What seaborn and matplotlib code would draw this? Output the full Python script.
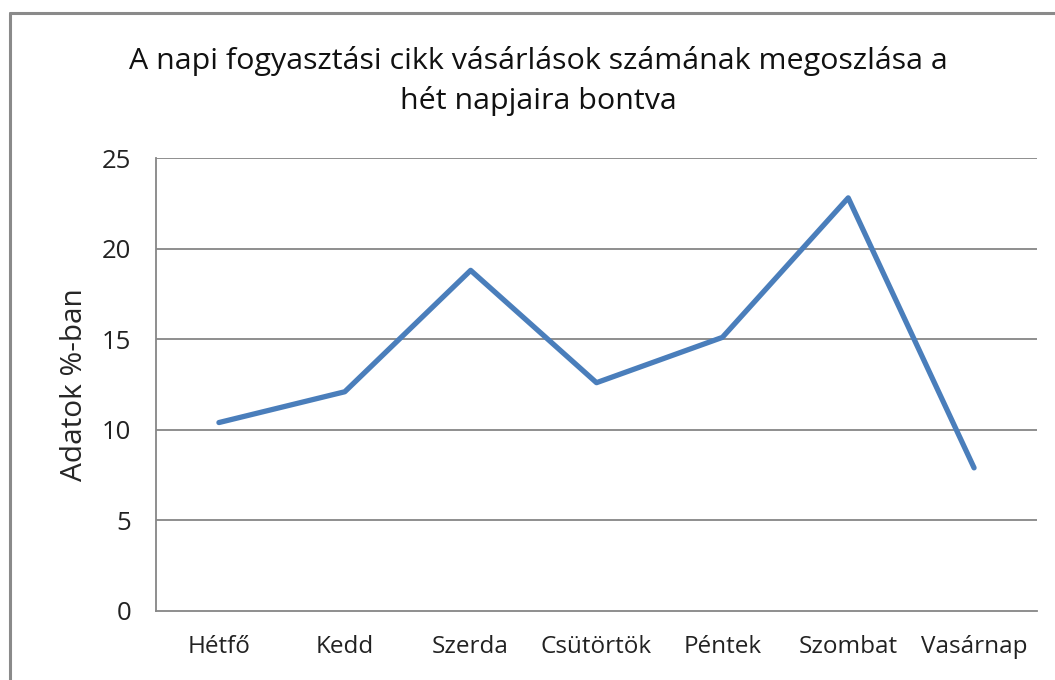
import numpy as np
import pandas as pd
import matplotlib
matplotlib.use("Agg")
import matplotlib.pyplot as plt
from matplotlib.lines import Line2D
from matplotlib.ticker import FixedLocator
import seaborn as sns

# data
days = ["Hétfő", "Kedd", "Szerda", "Csütörtök", "Péntek", "Szombat", "Vasárnap"]
share = [10.4, 12.1, 18.8, 12.6, 15.1, 22.8, 7.9]
y_ticks = [0, 5, 10, 15, 20, 25]

title = "A napi fogyasztási cikk vásárlások számának megoszlása a\nhét napjaira bontva"
y_label = "Adatok %-ban"

sns.set_style("white")
plt.rcParams['font.family'] = ['Open Sans', 'DejaVu Sans']

grid_col = "#868686"
line_col = "#4A7EBB"

data = pd.DataFrame({"nap": days, "arany": share})

fig = plt.figure(figsize=(10.55, 6.80), dpi=100)
ax = fig.add_axes([156/1055, 1 - 611/680, (1037 - 156)/1055, (611 - 158)/680])

#gridlines under the line
for t in y_ticks[1:]:
    ax.axhline(t, color=grid_col, linewidth=1.3, zorder=1)

sns.lineplot(x="nap", y="arany", data=data, sort=False, color=line_col,
             linewidth=3.8, ax=ax, zorder=3)

ax.set_xlim(-0.5, len(days) - 0.5)
ax.set_ylim(0, 25)
ax.set_yticks(y_ticks)
ax.set_yticklabels([str(t) for t in y_ticks], fontsize=18.5, color="#222222")
ax.set_xticks(range(len(days)))
ax.set_xticklabels(days, fontsize=17.5, color="#222222")
ax.xaxis.set_minor_locator(FixedLocator(np.arange(-0.5, len(days), 1)))
ax.tick_params(axis="x", which="major", length=0, pad=17)
ax.tick_params(axis="x", which="minor", length=9, width=1.3, color=grid_col, direction="out")
ax.tick_params(axis="y", length=9, width=1.3, color=grid_col, direction="out", pad=9)
ax.set_xlabel("")
ax.set_ylabel(y_label, fontsize=21.5, labelpad=9)

for side in ["top", "right"]:
    ax.spines[side].set_visible(False)
for side in ["left", "bottom"]:
    ax.spines[side].set_color(grid_col)
    ax.spines[side].set_linewidth(1.3)

fig.text(538/1055, 1 - 81/680, title, ha="center", va="center",
         fontsize=21.9, linespacing=1.4, color="#111111")

#outer chart frame
fig.add_artist(Line2D([10/1055, 10/1055], [0, 1 - 13/680], transform=fig.transFigure,
                      color="#8a8a8a", linewidth=2.2))
fig.add_artist(Line2D([10/1055, 1], [1 - 13/680, 1 - 13/680], transform=fig.transFigure,
                      color="#8a8a8a", linewidth=2.2))

fig.savefig("out.png", dpi=100)
